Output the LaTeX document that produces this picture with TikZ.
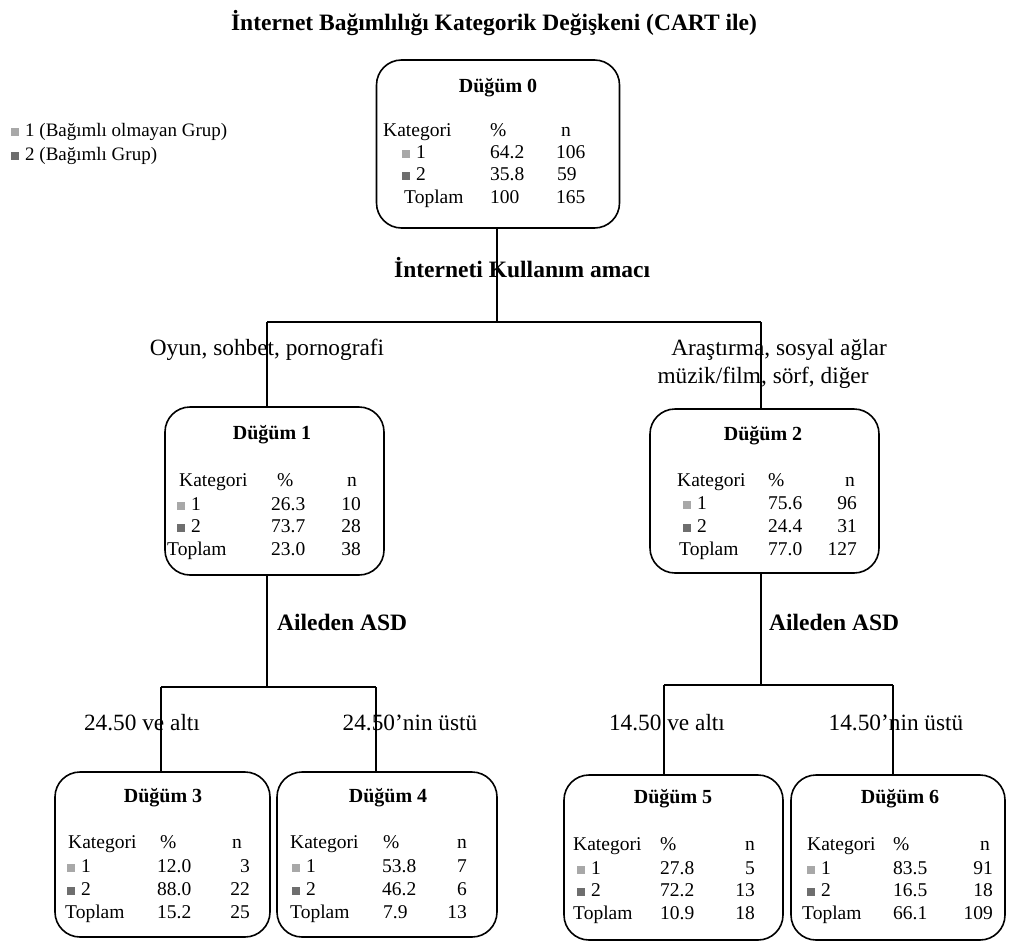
\documentclass[tikz,border=0pt]{standalone}
\usepackage{fontspec}
\setmainfont{Liberation Serif}
\definecolor{catA}{HTML}{A8A8A8}
\definecolor{catB}{HTML}{6E6E6E}
\newcommand\sqA{\textcolor{catA}{\rule[0.5pt]{8pt}{8pt}}\hspace{6pt}}
\newcommand\sqB{\textcolor{catB}{\rule[0.5pt]{8pt}{8pt}}\hspace{6pt}}
% row: #1 name, #2 y, #3 x label, #4 label, #5 x pct (left), #6 pct, #7 x n (right), #8 n
\newcommand\crow[8]{%
  \node[txt,anchor=west] (#1a) at (#3,#2) {#4};
  \node[txt,anchor=west] (#1b) at (#5,#2) {#6};
  \node[txt,anchor=east] (#1c) at (#7,#2) {#8};}
% header row: #1 name, #2 y, #3 x Kategori, #4 x %, #5 x n centre
\newcommand\chead[5]{%
  \node[txt,anchor=west] (#1a) at (#3,#2) {Kategori};
  \node[txt,anchor=west] (#1b) at (#4,#2) {\%};
  \node[txt] (#1c) at (#5,#2) {n};}
\begin{document}
\begin{tikzpicture}[x=1pt,y=-1pt,
  box/.style={draw, line width=1.6pt, rounded corners=25pt, inner sep=0pt},
  txt/.style={inner sep=0pt, font=\fontsize{19.5}{22}\selectfont, text height=14pt, text depth=4pt},
  hdr/.style={txt, font=\fontsize{20}{22}\selectfont\bfseries},
  lab/.style={inner sep=0pt, font=\fontsize{23.3}{26}\selectfont, text height=16pt, text depth=5pt},
  blab/.style={lab, font=\fontsize{23.5}{26}\selectfont\bfseries},
  conn/.style={line width=1.6pt}]
\useasboundingbox (0,0) rectangle (1009,940);

% title and legend
\node[blab] (title) at (494,25) {İnternet Bağımlılığı Kategorik Değişkeni (CART ile)};
\node[txt,anchor=west,font=\fontsize{19}{22}\selectfont] (leg1) at (11,131) {\sqA 1 (Bağımlı olmayan Grup)};
\node[txt,anchor=west,font=\fontsize{19}{22}\selectfont] (leg2) at (11,155) {\sqB 2 (Bağımlı Grup)};

% boxes
\node[box,minimum width=243pt,minimum height=168pt] (n0) at (498,144) {};
\node[box,minimum width=219pt,minimum height=168pt] (n1) at (274.5,491) {};
\node[box,minimum width=229pt,minimum height=164pt] (n2) at (764.5,491) {};
\node[box,minimum width=215pt,minimum height=165pt] (n3) at (162.5,854.5) {};
\node[box,minimum width=220pt,minimum height=165pt] (n4) at (387,854.5) {};
\node[box,minimum width=219pt,minimum height=165pt] (n5) at (673.5,857.5) {};
\node[box,minimum width=214pt,minimum height=165pt] (n6) at (898,857.5) {};

% node 0
\node[hdr] (n0h) at (498,87) {Düğüm 0};
\chead{n0k}{131}{383}{490}{566}
\node[txt,anchor=west] (n0r1a) at (402,153) {\sqA 1};
\node[txt,anchor=west] (n0r1b) at (490,153) {64.2};
\node[txt,anchor=west] (n0r1c) at (556,153) {106};
\node[txt,anchor=west] (n0r2a) at (402,175) {\sqB 2};
\node[txt,anchor=west] (n0r2b) at (490,175) {35.8};
\node[txt,anchor=west] (n0r2c) at (557,175) {59};
\node[txt,anchor=west] (n0r3a) at (404,198) {Toplam};
\node[txt,anchor=west] (n0r3b) at (490,198) {100};
\node[txt,anchor=west] (n0r3c) at (556,198) {165};

% node 1
\node[hdr] (n1h) at (272,434) {Düğüm 1};
\chead{n1k}{481}{179}{277}{352}
\crow{n1r1}{505}{177}{\sqA 1}{271}{26.3}{361}{10}
\crow{n1r2}{527}{177}{\sqB 2}{271}{73.7}{361}{28}
\crow{n1r3}{550}{167}{Toplam}{271}{23.0}{361}{38}

% node 2
\node[hdr] (n2h) at (763,435) {Düğüm 2};
\chead{n2k}{481}{677}{768}{850}
\crow{n2r1}{504}{683}{\sqA 1}{768}{75.6}{857}{96}
\crow{n2r2}{527}{683}{\sqB 2}{768}{24.4}{857}{31}
\crow{n2r3}{550}{679}{Toplam}{768}{77.0}{857}{127}

% node 3
\node[hdr] (n3h) at (163,797) {Düğüm 3};
\chead{n3k}{843}{68}{160}{237}
\crow{n3r1}{867}{67}{\sqA 1}{157}{12.0}{250}{3}
\crow{n3r2}{890}{67}{\sqB 2}{157}{88.0}{250}{22}
\crow{n3r3}{913}{65}{Toplam}{157}{15.2}{250}{25}

% node 4
\node[hdr] (n4h) at (388,797) {Düğüm 4};
\chead{n4k}{843}{290}{383}{462}
\crow{n4r1}{867}{292}{\sqA 1}{382}{53.8}{467}{7}
\crow{n4r2}{890}{292}{\sqB 2}{382}{46.2}{467}{6}
\crow{n4r3}{913}{290}{Toplam}{383}{7.9}{467}{13}

% node 5
\node[hdr] (n5h) at (673,798) {Düğüm 5};
\chead{n5k}{845}{573}{660}{750}
\crow{n5r1}{869}{577}{\sqA 1}{660}{27.8}{755}{5}
\crow{n5r2}{891}{577}{\sqB 2}{660}{72.2}{755}{13}
\crow{n5r3}{914}{573}{Toplam}{660}{10.9}{755}{18}

% node 6
\node[hdr] (n6h) at (900,798) {Düğüm 6};
\chead{n6k}{845}{807}{893}{985}
\crow{n6r1}{869}{807}{\sqA 1}{893}{83.5}{993}{91}
\crow{n6r2}{891}{807}{\sqB 2}{893}{16.5}{993}{18}
\crow{n6r3}{914}{802}{Toplam}{893}{66.1}{993}{109}

% connectors
\coordinate (j0) at (497,322);
\coordinate (b0l) at (267,322);
\coordinate (b0r) at (761,322);
\draw[conn] (n0.south -| j0) -- (j0);
\draw[conn] (b0l) -- (b0r);
\draw[conn] (b0l) -- (b0l |- n1.north);
\draw[conn] (b0r) -- (b0r |- n2.north);

\coordinate (j1) at (267,687);
\coordinate (b1l) at (161,687);
\coordinate (b1r) at (376,687);
\draw[conn] (j1 |- n1.south) -- (j1);
\draw[conn] (b1l) -- (b1r);
\draw[conn] (b1l) -- (b1l |- n3.north);
\draw[conn] (b1r) -- (b1r |- n4.north);

\coordinate (j2) at (761,685);
\coordinate (b2l) at (664,685);
\coordinate (b2r) at (893,685);
\draw[conn] (j2 |- n2.south) -- (j2);
\draw[conn] (b2l) -- (b2r);
\draw[conn] (b2l) -- (b2l |- n5.north);
\draw[conn] (b2r) -- (b2r |- n6.north);

% split labels
\node[blab,anchor=west] (s0) at (394,272) {İnterneti Kullanım amacı};
\node[lab] (s0a) at (267,350) {Oyun, sohbet, pornografi};
\node[lab] (s0b1) at (779,350) {Araştırma, sosyal ağlar};
\node[lab] (s0b2) at (763,378) {müzik/film, sörf, diğer};
\node[blab,anchor=west] (s1) at (277,625) {Aileden ASD};
\node[blab,anchor=west] (s2) at (769,625) {Aileden ASD};
\node[lab] (s1a) at (142,725) {24.50 ve altı};
\node[lab] (s1b) at (410,725) {24.50’nin üstü};
\node[lab] (s2a) at (667,725) {14.50 ve altı};
\node[lab] (s2b) at (896,725) {14.50’nin üstü};
\end{tikzpicture}
\end{document}
